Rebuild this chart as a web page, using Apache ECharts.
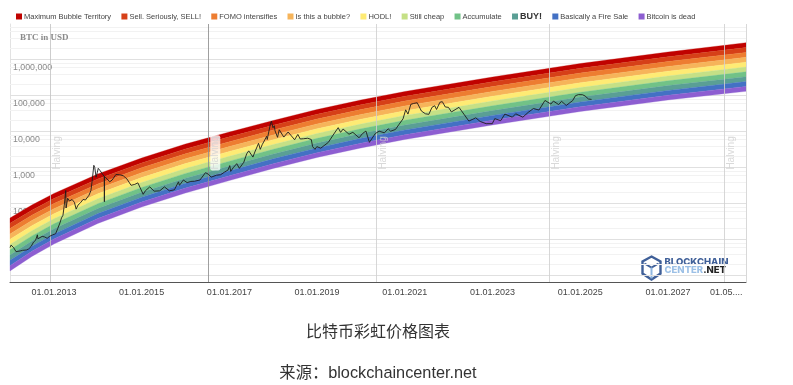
<!DOCTYPE html>
<html><head><meta charset="utf-8">
<style>html,body{margin:0;padding:0;background:#fff}#c{width:793px;height:385px}</style>
<script src="https://cdn.jsdelivr.net/npm/echarts@6/dist/echarts.min.js"></script>
</head><body><div id="c"></div>
<script>
const bandNames = ['Maximum Bubble Territory','Sell. Seriously, SELL!','FOMO intensifies','Is this a bubble?','HODL!','Still cheap','Accumulate','BUY!','Basically a Fire Sale','Bitcoin is dead'];
const bandColors = ['#c00200','#d64018','#ed7d31','#f6b45a','#feeb74','#c5e086','#71c287','#5a9f95','#4371c4','#8d5ed1'];
const bandDates = ['2012-01-01','2012-07-01','2013-01-01','2014-01-01','2015-01-01','2016-01-01','2017-01-01','2018-01-01','2019-01-01','2020-01-01','2021-01-01','2023-01-01','2025-01-01','2027-01-01','2028-10-12'];
const edge0  = [39.6,90.9,190,660,1836,4497,9683,20220,40840,75000,129200,326600,774400,1616000,2929000];
const edge1  = [28.2,65.4,137,481,1342,3287,7099,14880,30050,55190,95070,240300,569800,1189000,2147000];
const edge2  = [20.1,47.0,99.4,351,981,2403,5204,10950,22110,40610,69960,176800,419300,875000,1574000];
const edge3  = [14.3,33.8,72.0,256,717,1757,3816,8056,16270,29880,51480,130100,308500,643800,1154000];
const edge4  = [10.2,24.3,52.1,186,524,1284,2797,5928,11970,21990,37880,95750,227000,473800,846000];
const edge5  = [7.28,17.5,37.7,136,383,939,2051,4362,8810,16180,27870,70460,167100,348600,620000];
const edge6  = [5.19,12.6,27.3,99.0,280,686,1504,3210,6483,11900,20510,51850,122900,256500,455000];
const edge7  = [3.70,9.07,19.8,72.2,205,502,1102,2362,4770,8760,15090,38150,90450,188800,333000];
const edge8  = [2.64,6.52,14.3,52.6,150,367,808,1738,3510,6450,11100,28070,66560,138900,244000];
const edge9  = [1.88,4.69,10.4,38.3,110,268,592,1279,2583,4745,8170,20660,48980,102200,179000];
const edge10 = [1.34,3.38,7.52,27.9,80,196,434,941,1901,3491,6012,15200,36040,75200,131000];
const bandEdges = [edge0,edge1,edge2,edge3,edge4,edge5,edge6,edge7,edge8,edge9,edge10];

const priceDates = ['2012-01-01','2012-01-10','2012-01-20','2012-02-01','2012-02-20','2012-03-05','2012-03-25','2012-04-15','2012-05-15','2012-06-05','2012-06-25','2012-07-15','2012-08-01','2012-08-16','2012-08-20','2012-09-05','2012-09-25','2012-10-15','2012-11-05','2012-11-28','2012-12-20',
'2013-01-15','2013-02-01','2013-02-20','2013-03-05','2013-03-17','2013-03-28','2013-04-09','2013-04-12','2013-04-25','2013-05-10','2013-06-01','2013-06-20','2013-07-05','2013-07-20','2013-08-10','2013-09-01','2013-09-20','2013-10-05','2013-10-20','2013-11-05','2013-11-15','2013-11-29','2013-12-07','2013-12-18','2013-12-28',
'2014-01-05','2014-01-20','2014-02-05','2014-02-24','2014-02-25','2014-02-26','2014-03-10','2014-04-10','2014-05-01','2014-06-01','2014-07-01','2014-08-01','2014-09-01','2014-10-05','2014-11-05','2014-12-01',
'2015-01-14','2015-02-01','2015-03-10','2015-04-15','2015-06-01','2015-07-10','2015-08-20','2015-10-01','2015-11-04','2015-11-12','2015-12-15',
'2016-01-15','2016-02-15','2016-03-15','2016-05-01','2016-06-16','2016-07-10','2016-08-02','2016-09-15','2016-10-20','2016-11-20','2016-12-20',
'2017-01-04','2017-01-12','2017-02-01','2017-03-03','2017-03-25','2017-05-01','2017-05-25','2017-06-11','2017-07-16','2017-08-01','2017-09-01','2017-09-15','2017-10-01','2017-11-08','2017-11-12','2017-12-08','2017-12-17','2017-12-30',
'2018-01-10','2018-01-16','2018-02-06','2018-02-20','2018-03-30','2018-05-05','2018-06-28','2018-07-25','2018-08-14','2018-09-10','2018-10-15','2018-11-14','2018-11-25','2018-12-15','2018-12-30',
'2019-02-01','2019-04-05','2019-05-15','2019-06-26','2019-07-16','2019-08-06','2019-09-24','2019-10-26','2019-12-17',
'2020-01-15','2020-02-12','2020-03-12','2020-04-30','2020-06-01','2020-07-15','2020-08-15','2020-09-05','2020-10-15','2020-11-15','2020-12-17',
'2021-01-08','2021-01-27','2021-02-20','2021-03-13','2021-04-14','2021-05-19','2021-06-22','2021-07-20','2021-08-15','2021-09-07','2021-09-22','2021-10-20','2021-11-09','2021-12-04','2021-12-30',
'2022-01-24','2022-03-28','2022-05-12','2022-06-18','2022-08-15','2022-09-20','2022-11-09','2022-12-30',
'2023-01-20','2023-03-10','2023-04-14','2023-06-15','2023-07-13','2023-09-11','2023-10-25','2023-12-08',
'2024-01-23','2024-03-13','2024-05-01','2024-05-22','2024-07-05','2024-07-29','2024-09-06','2024-10-29','2024-11-22','2024-12-17',
'2025-01-20','2025-02-10','2025-03-10','2025-04-05'];
const priceValues = [6,7,6.4,5.9,4.6,5,4.8,5,5.1,5.5,6.4,8.5,9.5,13.5,10.5,10.5,12.2,11.8,10.8,12.4,13.4,
14.5,20,29,40,47,90,230,75,140,117,129,108,70,90,105,130,125,125,170,230,420,1150,1000,540,730,
950,820,800,560,112,570,630,400,450,640,630,590,480,320,340,375,
180,225,290,220,225,290,225,240,400,320,450,
380,410,415,450,720,650,540,610,630,740,850,
1130,780,980,1280,950,1400,2400,2900,1950,2700,4700,3200,4300,7400,6000,16000,19300,12700,
14500,10500,6900,11200,7000,9700,5900,8300,6200,6300,6500,6000,3800,3200,3800,
3450,5000,8000,12800,9500,11700,8400,9500,6700,
8800,10300,5000,8800,10200,9200,11900,10200,11400,16000,22500,
40000,30500,57000,60000,63000,37000,31000,30000,47000,52000,41000,65000,67500,48000,47000,
35000,47000,29000,19500,24000,19000,16500,16500,
22800,20000,30500,25000,31000,25000,34000,43500,
39500,73000,58000,70000,56000,69000,53000,72000,99000,106000,
105000,97000,80000,78000];

const halvingDates = ['2012-11-28','2016-07-09','2020-05-11','2024-04-20','2028-04-17'];
const halvingLineColors = ['#c4c4c4','#8e8e8e','#d0d0d0','#d0d0d0','#d0d0d0'];
const halvingLabelLevel = 2540;
const gridMajor = [1,10,100,1000,10000,100000,1000000];
const gridMinor = [2,4,6,8,20,40,60,80,200,400,600,800,2000,4000,6000,8000,20000,40000,60000,80000,200000,400000,600000,800000,2000000,4000000,6000000,8000000];
const yTickLabels = {100:'100',1000:'1,000',10000:'10,000',100000:'100,000',1000000:'1,000,000'};
const xTickDates = ['2013-01-01','2015-01-01','2017-01-01','2019-01-01','2021-01-01','2023-01-01','2025-01-01','2027-01-01','2028-05-01'];
const xTickLabels = ['01.01.2013','01.01.2015','01.01.2017','01.01.2019','01.01.2021','01.01.2023','01.01.2025','01.01.2027','01.05....'];

const t = d => Date.parse(d);
const xMin = t('2012-01-01'), xMax = t('2028-10-12');
const latin = '"Liberation Sans", Arial, sans-serif';
const xLabelMap = {};
xTickDates.forEach((d,i)=>{ xLabelMap[t(d)] = xTickLabels[i]; });

const bandSeries = bandNames.map((name,b)=>({
  name, type:'custom', z:3, silent:true, coordinateSystem:'cartesian2d',
  itemStyle:{color:bandColors[b]},
  encode:{x:0,y:[1,2]},
  data:bandDates.map((d,k)=>[t(d),bandEdges[b+1][k],bandEdges[b][k]]),
  renderItem(params,api){
    if(params.dataIndex!==0) return;
    const up=[],lo=[];
    bandDates.forEach((d,k)=>{
      up.push(api.coord([t(d),bandEdges[b][k]]));
      lo.unshift(api.coord([t(d),bandEdges[b+1][k]]));
    });
    return {type:'polygon',shape:{points:up.concat(lo)},style:{fill:bandColors[b],stroke:bandColors[b],lineWidth:0.3}};
  }
}));

const gridSeries = {
  type:'line', z:1, silent:true, symbol:'none', lineStyle:{opacity:0},
  data:[[xMin,1]],
  markLine:{z:1,silent:true,symbol:'none',animation:false,
    data:[
      ...gridMinor.map(v=>({yAxis:v,lineStyle:{color:'#f2f2f2',width:1,type:'solid'},label:{show:false}})),
      ...gridMajor.map(v=>({yAxis:v,lineStyle:{color:'#e0e0e0',width:1,type:'solid'},
        label:yTickLabels[v]?{show:true,formatter:yTickLabels[v],position:'insideStartBottom',distance:[3,4],color:'#8a8a8a',fontSize:8.8,fontFamily:latin}:{show:false}}))
    ]}
};

const halvingSeries = {
  type:'scatter', z:4, silent:true, symbolSize:0,
  data:halvingDates.map(d=>[t(d),halvingLabelLevel]),
  label:{show:true,formatter:'Halving',rotate:90,position:'right',distance:2,color:'#cfcfcf',fontSize:10,fontFamily:latin,align:'center',verticalAlign:'middle',offset:[0,5]},
  markLine:{z:4,silent:true,symbol:'none',animation:false,label:{show:false},
    data:[...halvingDates.map((d,i)=>({xAxis:t(d),lineStyle:{color:halvingLineColors[i],width:1,type:'solid',opacity:.85}})),
      {xAxis:xMax,lineStyle:{color:'#d8d8d8',width:1,type:'solid'}}]}
};
halvingSeries.data[1] = {value:[t(halvingDates[1]),halvingLabelLevel],label:{backgroundColor:'#fff',color:'#d2d2d2',padding:[0,1],borderRadius:2}};

const priceSeries = {
  type:'line', z:5, silent:true, symbol:'none', name:'BTC',
  data:priceDates.map((d,i)=>[t(d),priceValues[i]]),
  lineStyle:{color:'#1d1d1d',width:0.9}
};

const chart = echarts.init(document.getElementById('c'),null,{renderer:'canvas'});
chart.setOption({
  animation:false, backgroundColor:'#fff',
  title:[
    {text:'BTC in USD',left:15,top:28,textStyle:{fontFamily:'"Liberation Serif",serif',fontWeight:'bold',fontSize:9,color:'#8a8a8a'}},
    {text:'比特币彩虹价格图表',left:373,top:320,textAlign:'center',textStyle:{fontFamily:latin+',"Noto Sans CJK SC"',fontWeight:'normal',fontSize:16,color:'#333'}},
    {text:'来源：blockchaincenter.net',left:373,top:360,textAlign:'center',textStyle:{fontFamily:latin+',"Noto Sans CJK SC"',fontWeight:'normal',fontSize:16.3,color:'#333'}}
  ],
  legend:{left:16,top:12,itemWidth:6,itemHeight:6,itemGap:10.3,icon:'rect',selectedMode:false,padding:0,
    textStyle:{fontFamily:latin,fontSize:7.5,color:'#444',padding:[0,0,0,-3]},
    data:bandNames.map(n=>n==='BUY!'?{name:n,textStyle:{fontSize:9,fontWeight:'bold',color:'#333'}}:{name:n})},
  grid:{left:10,right:47,top:24,bottom:103,containLabel:false},
  xAxis:{type:'value',min:xMin,max:xMax,scale:true,
    axisLine:{show:true,onZero:false,lineStyle:{color:'#555',width:1}},axisTick:{show:false},splitLine:{show:false},minorSplitLine:{show:false},
    axisLabel:{customValues:xTickDates.map(t),margin:6,fontFamily:latin,fontSize:9,color:'#444',hideOverlap:false,showMinLabel:true,showMaxLabel:true,
      formatter:v=>xLabelMap[v]||''}},
  yAxis:{type:'log',logBase:10,min:0.66,max:9700000,
    axisLine:{show:true,lineStyle:{color:'#e2e2e2'}},axisTick:{show:false},axisLabel:{show:false},splitLine:{show:false}},
  series:[gridSeries,...bandSeries,halvingSeries,priceSeries],
  graphic:[{type:'group',left:640,top:254,z:10,children:[
    {type:'polygon',shape:{points:[[10,0],[19,5],[19,17],[10,23],[1,17],[1,5]]},style:{fill:'none',stroke:'#3f5f98',lineWidth:2.4}},
    {type:'polyline',shape:{points:[[3,7],[10,11],[17,7]]},style:{fill:'none',stroke:'#3f5f98',lineWidth:2}},
    {type:'polyline',shape:{points:[[10,11],[10,22]]},style:{fill:'none',stroke:'#8fb6e0',lineWidth:2}},
    {type:'text',style:{x:23,y:1,text:'BLOCKCHAIN',font:'800 9.5px Inter, "Liberation Sans"',fill:'#3f5f98'}},
    {type:'text',style:{x:23,y:9,rich:{a:{fill:'#9cc0e6',font:'800 9.5px Inter, "Liberation Sans"'},b:{fill:'#222',font:'800 9.5px Inter, "Liberation Sans"'}},text:'{a|CENTER}{b|.NET}'}}
  ]}]
});
</script></body></html>
